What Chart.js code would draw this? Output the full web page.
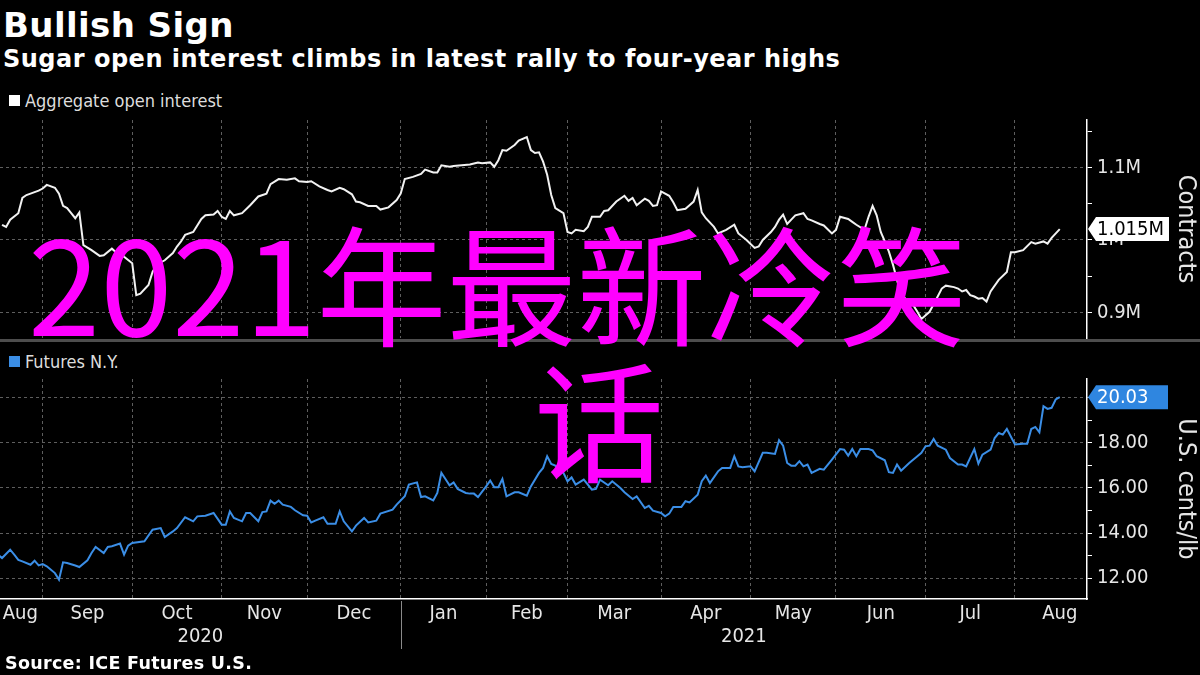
<!DOCTYPE html>
<html>
<head>
<meta charset="utf-8">
<script src="https://cdn.jsdelivr.net/npm/chart.js@4.4.1/dist/chart.umd.min.js"></script>
<style>
  body { margin: 0; background: #000; width: 1200px; height: 675px; overflow: hidden; position: relative; color: #fff; font-family: 'DejaVu Sans', sans-serif; }
  canvas { position: absolute; left: 0; }
  #oi { top: 110px; }
  #fut { top: 370px; }
  .txt { position: absolute; white-space: nowrap; line-height: 1; }
  #title { left: 3px; top: 8px; font-size: 34px; font-weight: bold; letter-spacing: 0.4px; }
  #subtitle { left: 3px; top: 47px; font-size: 24px; font-weight: bold; letter-spacing: 0.5px; }
  .legend { left: 25px; font-size: 18px; color: #ddd; font-family: 'DejaVu Sans Condensed', 'Liberation Sans Narrow', 'DejaVu Sans', sans-serif; }
  .sw { position: absolute; left: 9px; width: 11px; height: 11px; }
  #sep { position: absolute; left: 0; top: 339px; width: 1200px; height: 3px; background: #4d4d4d; }
  #source { left: 5px; top: 655px; font-size: 17.5px; font-weight: bold; letter-spacing: 0.3px; }
  .joke { position: absolute; white-space: nowrap; line-height: 1; font-size: 130px; color: #ff00ff; font-family: 'Noto Sans CJK SC', sans-serif; z-index: 5; }
  #joke1 { left: 28px; top: 214px; }
  #joke2 { left: 534px; top: 350px; }
</style>
</head>
<body>
<div id="title" class="txt">Bullish Sign</div>
<div id="subtitle" class="txt">Sugar open interest climbs in latest rally to four-year highs</div>
<div class="sw" style="top:95px;background:#fff"></div>
<div class="txt legend" style="top:92px">Aggregate open interest</div>
<canvas id="oi" width="1200" height="235"></canvas>
<div id="sep"></div>
<div class="sw" style="top:356px;background:#3b8ee6"></div>
<div class="txt legend" style="top:353px">Futures N.Y.</div>
<canvas id="fut" width="1200" height="305"></canvas>
<div id="source" class="txt">Source: ICE Futures U.S.</div>
<div id="joke1" class="joke">2021年最新冷笑</div>
<div id="joke2" class="joke">话</div>

<script>
// x values are trading days (weekdays) counted from Mon 3 Aug 2020
const monthStarts = ['2020-08-01','2020-09-01','2020-10-01','2020-11-01','2020-12-01','2021-01-01','2021-02-01',
                     '2021-03-01','2021-04-01','2021-05-01','2021-06-01','2021-07-01','2021-08-01','2021-09-01'];
const monthNames = ['Aug','Sep','Oct','Nov','Dec','Jan','Feb','Mar','Apr','May','Jun','Jul','Aug'];
const yearNames = ['2020', '2021'];
const X_MIN = 10.5, X_MAX = 277.7;

// aggregate open interest, millions of contracts
const oiDay = [11,12,13,15,16,17,18,20,21,22,24,25,26,27,28,29,30,31,33,35,36,38,39,40,41,43,44,45,47,48,49,51,53,54,55,56,58,60,61,63,
  64,65,66,67,68,70,72,74,76,77,79,81,83,84,86,87,89,91,92,94,95,97,98,99,101,103,104,106,108,109,110,112,114,115,117,118,119,121,122,124,
  126,128,129,131,132,133,134,135,137,138,140,141,142,143,144,145,146,147,149,150,151,152,154,155,156,158,159,160,162,164,165,166,167,169,
  170,171,172,173,175,176,177,179,180,181,182,183,184,186,187,189,191,192,194,196,197,198,200,201,202,203,204,205,206,208,209,210,212,213,
  215,216,217,219,220,221,223,224,225,226,227,228,229,230,232,235,236,237,239,241,242,243,245,246,247,248,249,250,251,252,253,254,256,258,
  259,260,262,264,265,267,268,269,271];
const oiValue = [1.021,1.018,1.028,1.037,1.058,1.062,1.064,1.068,1.071,1.076,1.072,1.064,1.047,1.044,1.037,1.030,1.038,0.993,0.986,0.978,
  0.979,0.988,0.983,0.983,0.977,0.968,0.924,0.926,0.938,0.956,0.966,0.972,0.982,0.991,0.998,1.007,1.011,1.029,1.034,1.035,
  1.040,1.032,1.029,1.040,1.034,1.037,1.048,1.060,1.064,1.077,1.084,1.083,1.085,1.081,1.080,1.081,1.074,1.069,1.067,1.072,
  1.070,1.063,1.053,1.052,1.047,1.047,1.042,1.045,1.055,1.064,1.084,1.087,1.091,1.097,1.093,1.093,1.103,1.101,1.102,1.103,
  1.104,1.107,1.106,1.107,1.101,1.110,1.124,1.123,1.131,1.137,1.142,1.124,1.120,1.121,1.108,1.090,1.062,1.044,1.037,1.011,
  1.009,1.014,1.012,1.018,1.032,1.032,1.040,1.041,1.053,1.061,1.054,1.058,1.048,1.057,1.054,1.047,1.048,1.067,1.061,1.052,
  1.041,1.043,1.048,1.053,1.069,1.038,1.030,1.018,1.009,1.014,1.021,1.009,1.000,0.989,0.991,1.000,1.011,1.018,1.028,1.035,
  1.022,1.028,1.034,1.037,1.029,1.027,1.022,1.020,1.009,1.014,1.032,1.029,1.025,1.021,1.014,1.032,1.047,1.034,1.011,0.998,
  0.984,0.966,0.924,0.910,0.901,0.891,0.901,0.922,0.933,0.937,0.935,0.933,0.929,0.931,0.924,0.922,0.919,0.920,0.915,0.929,
  0.945,0.956,0.983,0.983,0.986,0.997,0.995,0.998,0.995,1.003,1.015];

// NY sugar futures, U.S. cents/lb
const futDay = [10,11,13,14,15,16,18,19,20,21,22,24,25,26,27,29,30,32,33,34,36,37,38,40,41,42,43,46,48,50,51,53,54,56,58,59,61,63,65,66,
  67,68,70,71,72,74,75,76,77,78,79,80,82,83,85,86,87,88,90,91,93,94,95,97,98,100,101,103,104,107,108,110,111,113,114,115,117,118,119,120,
  121,122,123,125,126,127,128,130,131,132,133,134,135,137,138,140,141,143,144,145,146,147,149,150,151,152,154,156,157,158,160,161,163,164,
  166,167,169,170,171,173,174,175,176,178,179,180,182,183,184,185,187,188,190,191,192,193,195,196,198,199,201,202,203,204,205,206,207,208,
  209,210,212,213,215,217,218,219,220,221,222,224,225,226,228,229,230,231,232,234,236,237,238,239,240,241,243,244,246,247,248,250,251,252,
  254,255,256,257,258,260,262,263,264,265,266,267,268,269,270,271];
const futValue = [13.04,12.89,13.26,13.04,12.81,12.74,12.59,12.77,12.56,12.62,12.52,12.22,11.93,12.70,12.67,12.56,12.49,12.79,13.11,13.38,
  13.11,13.38,13.41,13.53,13.04,13.44,13.56,13.63,14.15,14.22,13.82,14.07,14.22,14.70,14.52,14.74,14.77,14.89,14.37,14.37,
  14.96,14.67,14.52,14.89,14.89,14.52,14.93,14.96,15.44,15.30,15.44,15.26,15.16,15.01,14.79,14.77,14.47,14.55,14.70,14.41,
  14.41,14.96,14.52,14.07,14.33,14.67,14.47,14.55,14.86,15.04,15.26,15.63,16.15,16.25,15.60,15.63,15.45,15.78,16.67,16.40,
  16.12,16.25,15.96,15.78,15.75,15.75,15.60,16.07,16.33,16.03,16.03,16.40,15.63,15.81,15.81,15.66,16.07,16.67,16.89,17.41,
  17.07,16.99,16.67,16.30,16.47,16.15,16.37,15.93,15.96,16.37,16.12,16.30,16.00,15.81,15.51,15.63,15.11,15.21,14.99,14.89,
  14.74,14.86,15.16,15.16,15.41,15.36,15.70,16.30,16.55,16.22,16.74,16.89,16.89,17.41,16.96,16.92,16.96,16.74,17.56,17.56,
  17.51,18.12,17.88,17.11,16.99,16.99,17.19,16.96,17.04,16.67,16.85,16.81,17.26,17.73,17.70,17.44,17.73,17.41,17.73,17.73,
  17.67,17.41,17.23,16.70,16.67,17.04,16.77,17.11,17.41,17.56,17.85,17.88,18.18,17.88,17.70,17.33,17.04,17.04,16.96,17.73,
  17.08,17.48,17.70,18.22,18.44,18.37,18.62,17.93,17.96,17.96,18.62,18.71,18.47,19.63,19.51,19.56,19.93,20.03];

const oiTicks = [0.9, 0.95, 1.0, 1.05, 1.1, 1.15];
const futTicks = [12, 13, 14, 15, 16, 17, 18, 19, 20];

const BASE = Date.UTC(2020, 7, 3);
function tradingDay(iso) {
  const end = Date.parse(iso + 'T00:00:00Z');
  let n = 0;
  for (let t = BASE; t < end; t += 86400000) {
    const w = new Date(t).getUTCDay();
    if (w !== 0 && w !== 6) n++;
  }
  return n;
}
const monthT = monthStarts.map(tradingDay);
const janT = tradingDay('2021-01-01');

const CONDENSED = "'DejaVu Sans Condensed', 'Liberation Sans Narrow', 'DejaVu Sans', sans-serif";
Chart.defaults.font.family = CONDENSED;
Chart.defaults.color = '#ddd';

const GRID = '#5e5e5e';
const zeroPad = s => { s.paddingLeft = 0; s.paddingRight = 0; s.paddingTop = 0; s.paddingBottom = 0; };

const isMajor = (v, step) => Math.abs(v / step - Math.round(v / step)) < 1e-6;

// price tag next to the last value on the right axis
const valueTag = {
  id: 'valueTag',
  afterDraw(chart, args, o) {
    if (!o || !o.text) return;
    const ds = chart.data.datasets[0].data;
    const last = ds[ds.length - 1];
    const y = chart.scales.y.getPixelForValue(last.y);
    const x0 = chart.chartArea.right + 1;
    const ctx = chart.ctx;
    const h = 24;
    ctx.save();
    ctx.font = '20px ' + CONDENSED;
    const label = o.text(last.y);
    const w = Math.max(o.width || 0, ctx.measureText(label).width + 14);
    ctx.fillStyle = o.bg;
    ctx.beginPath();
    ctx.moveTo(x0, y);
    ctx.lineTo(x0 + 8, y - h / 2);
    ctx.lineTo(x0 + w, y - h / 2);
    ctx.lineTo(x0 + w, y + h / 2);
    ctx.lineTo(x0 + 8, y + h / 2);
    ctx.closePath();
    ctx.fill();
    ctx.fillStyle = o.fg;
    ctx.textBaseline = 'middle';
    ctx.textAlign = 'left';
    ctx.fillText(label, x0 + 9, y + 1);
    ctx.restore();
  }
};

// short divider between the 2020 and 2021 year labels
const yearDivider = {
  id: 'yearDivider',
  afterDraw(chart, args, o) {
    if (!o || !o.show) return;
    const x = Math.round(chart.scales.x.getPixelForValue(janT)) + 0.5;
    const b = chart.chartArea.bottom;
    const ctx = chart.ctx;
    ctx.save();
    ctx.strokeStyle = '#8a8a8a';
    ctx.lineWidth = 1;
    ctx.beginPath();
    ctx.moveTo(x, b + 2);
    ctx.lineTo(x, b + 50);
    ctx.stroke();
    ctx.restore();
  }
};

function monthGridAxis(showBorder) {
  return {
    type: 'linear', position: 'bottom', min: X_MIN, max: X_MAX, bounds: 'data', weight: 0,
    afterBuildTicks: s => { s.ticks = monthT.filter(v => v > X_MIN && v < X_MAX).map(v => ({ value: v })); },
    ticks: { display: false },
    grid: { color: GRID, drawTicks: false, lineWidth: 1 },
    border: { display: showBorder, color: '#fff', width: 1.5, dash: [3, 3] },
    afterFit: s => { s.height = 0; zeroPad(s); }
  };
}

function rightAxis(min, max, ticks, step, fmt, title) {
  return {
    type: 'linear', position: 'right', min, max, bounds: 'data',
    afterBuildTicks: s => { s.ticks = ticks.map(v => ({ value: v })); },
    ticks: {
      color: '#e6e6e6', font: { size: 20 }, padding: 5,
      callback: v => isMajor(v, step) ? fmt(v) : ''
    },
    grid: {
      color: c => (c.tick && isMajor(c.tick.value, step)) ? GRID : 'rgba(0,0,0,0)',
      tickBorderDash: [], tickColor: '#fff', tickLength: 5, lineWidth: 1
    },
    border: { display: true, color: '#fff', width: 1.5, dash: [3, 3] },
    title: { display: true, text: title, color: '#e6e6e6', font: { size: 25 }, padding: { top: 0, bottom: 0 } },
    afterFit: s => { s.width = 1200 - 1087; zeroPad(s); }
  };
}

const toPoints = (xs, ys) => xs.map((x, i) => ({ x, y: ys[i] }));

new Chart(document.getElementById('oi'), {
  type: 'line',
  data: { datasets: [{ data: toPoints(oiDay, oiValue), borderColor: '#f2f2f2', borderWidth: 2, pointRadius: 0, tension: 0 }] },
  options: {
    responsive: false, animation: false, devicePixelRatio: 1,
    layout: { padding: { top: 10, bottom: 7, left: 0, right: 0 }, autoPadding: false },
    plugins: {
      legend: { display: false }, tooltip: { enabled: false },
      valueTag: { bg: '#ffffff', fg: '#000000', width: 0, text: v => v.toFixed(3) + 'M' }
    },
    scales: {
      x: monthGridAxis(false),
      y: rightAxis(0.8648, 1.1655, oiTicks, 0.1, v => (Math.abs(v - 1) < 1e-6 ? '1' : v.toFixed(1)) + 'M', 'Contracts')
    }
  },
  plugins: [valueTag]
});

new Chart(document.getElementById('fut'), {
  type: 'line',
  data: { datasets: [{ data: toPoints(futDay, futValue), borderColor: '#3b8ee6', borderWidth: 2, pointRadius: 0, tension: 0 }] },
  options: {
    responsive: false, animation: false, devicePixelRatio: 1,
    layout: { padding: { top: 9, bottom: 26, left: 0, right: 0 }, autoPadding: false },
    plugins: {
      legend: { display: false }, tooltip: { enabled: false },
      valueTag: { bg: '#2f86e0', fg: '#ffffff', width: 80, text: v => v.toFixed(2) },
      yearDivider: { show: true }
    },
    scales: {
      x: monthGridAxis(true),
      xMonth: {
        type: 'linear', position: 'bottom', min: X_MIN, max: X_MAX, bounds: 'data', weight: 1,
        afterBuildTicks: s => {
          s.ticks = monthNames.map((n, i) => ({ value: Math.max((monthT[i] + monthT[i + 1]) / 2, X_MIN + 5) }));
        },
        ticks: { autoSkip: false, maxRotation: 0, color: '#e6e6e6', font: { size: 20 }, padding: 3,
                 callback: (v, i) => monthNames[i] },
        grid: { display: false, drawTicks: false }, border: { display: false },
        afterFit: s => { s.height = 26; zeroPad(s); }
      },
      xYear: {
        type: 'linear', position: 'bottom', min: X_MIN, max: X_MAX, bounds: 'data', weight: 2,
        afterBuildTicks: s => { s.ticks = [(X_MIN + janT) / 2, (janT + X_MAX) / 2].map(v => ({ value: v })); },
        ticks: { autoSkip: false, maxRotation: 0, color: '#e6e6e6', font: { size: 20 }, padding: 0,
                 callback: (v, i) => yearNames[i] },
        grid: { display: false, drawTicks: false }, border: { display: false },
        afterFit: s => { s.height = 24; zeroPad(s); }
      },
      y: rightAxis(11.07, 20.84, futTicks, 2, v => v.toFixed(2), 'U.S. cents/lb')
    }
  },
  plugins: [valueTag, yearDivider]
});
</script>
</body>
</html>
